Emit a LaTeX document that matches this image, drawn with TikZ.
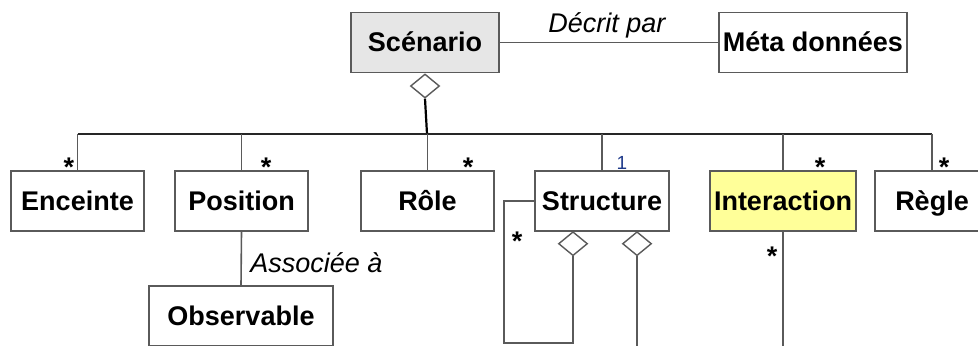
\documentclass[tikz,border=0pt]{standalone}
\usepackage{fontspec}
\setmainfont{Liberation Sans}
\usetikzlibrary{shapes.geometric}
\definecolor{fondgris}{HTML}{E6E6E6}
\definecolor{fondjaune}{HTML}{FFFF99}
\definecolor{trait}{HTML}{5A5A5A}
\definecolor{bleumult}{HTML}{1F3A8A}
\tikzset{
  classe/.style={draw=trait, line width=0.8pt, fill=white, inner sep=0pt,
    minimum height=30pt, text height=9.8pt, text depth=0.8pt,
    font=\fontsize{13.5}{16}\selectfont\bfseries},
  losange/.style={diamond, draw=trait, fill=white, line width=0.7pt, inner sep=0pt,
    minimum width=14.5pt, minimum height=12pt},
  lien/.style={draw=trait, line width=0.8pt},
  mult/.style={inner sep=0pt, anchor=north, font=\fontsize{13.5}{16}\selectfont\bfseries},
  assoc/.style={inner sep=0pt, anchor=base west, font=\fontsize{13.5}{16}\selectfont\itshape}
}
\begin{document}
\begin{tikzpicture}[x=0.5pt,y=-0.5pt]
\useasboundingbox (0,0) rectangle (978,345);

% classes
\node[classe, fill=fondgris, minimum width=74pt] (scen) at (425,42.5) {Scénario};
\node[classe, minimum width=94pt] (meta) at (813,42.5) {Méta données};
\node[classe, minimum width=66.5pt] (enc) at (77.5,201) {Enceinte};
\node[classe, minimum width=66.5pt] (pos) at (241.5,201) {Position};
\node[classe, minimum width=66.5pt] (role) at (427.5,201) {Rôle};
\node[classe, minimum width=67pt] (struct) at (602,201) {Structure};
\node[classe, fill=fondjaune, minimum width=73pt] (inter) at (783,201) {Interaction};
\node[classe, minimum width=57pt] (regle) at (932,201) {Règle};
\node[classe, minimum width=92pt] (obs) at (241,316) {Observable};

% losanges
\node[losange, anchor=north] (dscen) at (scen.south) {};
\node[losange, anchor=north] (dstr1) at (573,231) {};
\node[losange, anchor=north] (dstr2) at (637,231) {};

\coordinate (bus) at (427,134);
\coordinate (boucle) at (504,343);
\coordinate (fin2) at (637,350);
\coordinate (fin3) at (783,350);

% liens
\draw[lien] (scen.east) -- (meta.west);
\draw[black, line width=1.1pt] (dscen.south) -- (bus);
\draw[black!85, line width=0.8pt] (enc.north |- bus) -- (regle.north |- bus);
\foreach \c in {enc,pos,role,struct,inter,regle}
  \draw[lien] (\c.north) -- (\c.north |- bus);
\draw[lien] (pos.south) -- (obs.north);
\draw[lien] (struct.west) -| (boucle) -| (dstr1.south);
\draw[lien] (dstr2.south) -- (fin2);
\draw[lien] (inter.south) -- (fin3);

% textes
\node[assoc] (tdecrit) at (548,32) {Décrit par};
\node[assoc] (tassoc) at (250,272) {Associée à};

% multiplicites
\node[mult] (m1) at (69,158) {*};
\node[mult] (m2) at (266,158) {*};
\node[mult] (m3) at (468,158) {*};
\node[mult, font=\fontsize{9.5}{11}\selectfont, text=bleumult] (m4) at (622,156) {1};
\node[mult] (m5) at (820,158) {*};
\node[mult] (m6) at (944,158) {*};
\node[mult] (m7) at (517,232) {*};
\node[mult] (m8) at (772,247) {*};
\end{tikzpicture}
\end{document}
